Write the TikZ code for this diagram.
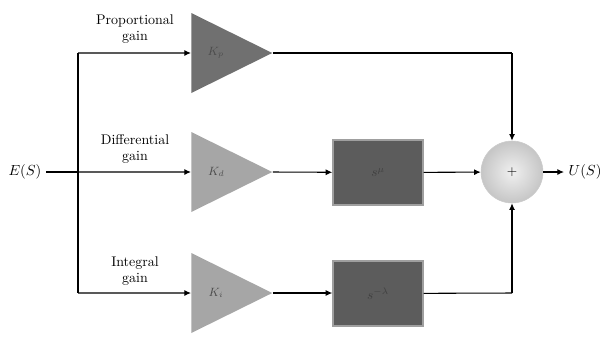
\documentclass[tikz,border=0pt]{standalone}
\usetikzlibrary{arrows.meta,positioning,shapes.geometric}
\definecolor{gdark}{RGB}{112,112,112}
\definecolor{glight}{RGB}{166,166,166}
\definecolor{gbox}{RGB}{92,92,92}

\begin{document}
\begin{tikzpicture}[
  x=0.75pt, y=-0.75pt,
  gain/.style={isosceles triangle, isosceles triangle stretches, draw=none,
               minimum width=60pt, minimum height=60.75pt, inner sep=0pt,
               anchor=lower side, font=\small, text=black!70},
  block/.style={draw=gray!75, line width=1pt, fill=gbox, minimum width=67.5pt,
                minimum height=48.75pt, inner sep=0pt, text=black!75},
  sum/.style={circle, draw=black!20, shading=radial, inner color=gray!12,
              outer color=gray!45, minimum size=46.5pt, inner sep=0pt},
  flow/.style={-{Latex[length=5pt,width=4.5pt]}, line width=0.8pt},
  link/.style={line width=0.8pt},
  sig/.style={font=\fontsize{11}{13}\selectfont},
  lbl/.style={align=center, font=\fontsize{10.5}{12.5}\selectfont, inner sep=0pt}
]
\useasboundingbox (0,0) rectangle (605,336);

% input and branching
\node[sig] (es) at (25,172) {$E(S)$};
\coordinate (split) at (78,172);
\coordinate (top) at (78,53);
\coordinate (bot) at (78,293);

% gains
\node[gain, fill=gdark] (kp) at (191,53) {$K_p$};
\node[gain, fill=glight] (kd) at (191,172) {$K_d$};
\node[gain, fill=glight] (ki) at (191,293) {$K_i$};
\node[lbl] (lp) at (135,29) {Proportional\\gain};
\node[lbl] (ld) at (135,149) {Differential\\gain};
\node[lbl] (li) at (135,271) {Integral\\gain};

% fractional operators
\node[block] (sd) at (378,172.5) {$s^{\mu}$};
\node[block] (si) at (378,293.5) {$s^{-\lambda}$};

% summation and output
\node[sum] (add) at (512,172) {$+$};
\coordinate (topr) at (512,53);
\coordinate (botr) at (512,293);
\node[sig, anchor=west] (us) at (564,172) {$U(S)$};

\draw[link] (es) -- (split);
\draw[link] (top) -- (bot);
\draw[flow] (top) -- (kp);
\draw[flow] (split) -- (kd);
\draw[flow] (bot) -- (ki);
\draw[link] (kp.apex) -- (topr);
\draw[flow] (topr) -- (add);
\draw[flow] (kd.apex) -- (sd);
\draw[flow] (sd) -- (add);
\draw[flow] (ki.apex) -- (si.west |- ki.apex);
\draw[link] (si) -- (botr);
\draw[flow] (botr) -- (add);
\draw[flow] (add) -- (us);
\end{tikzpicture}
\end{document}
